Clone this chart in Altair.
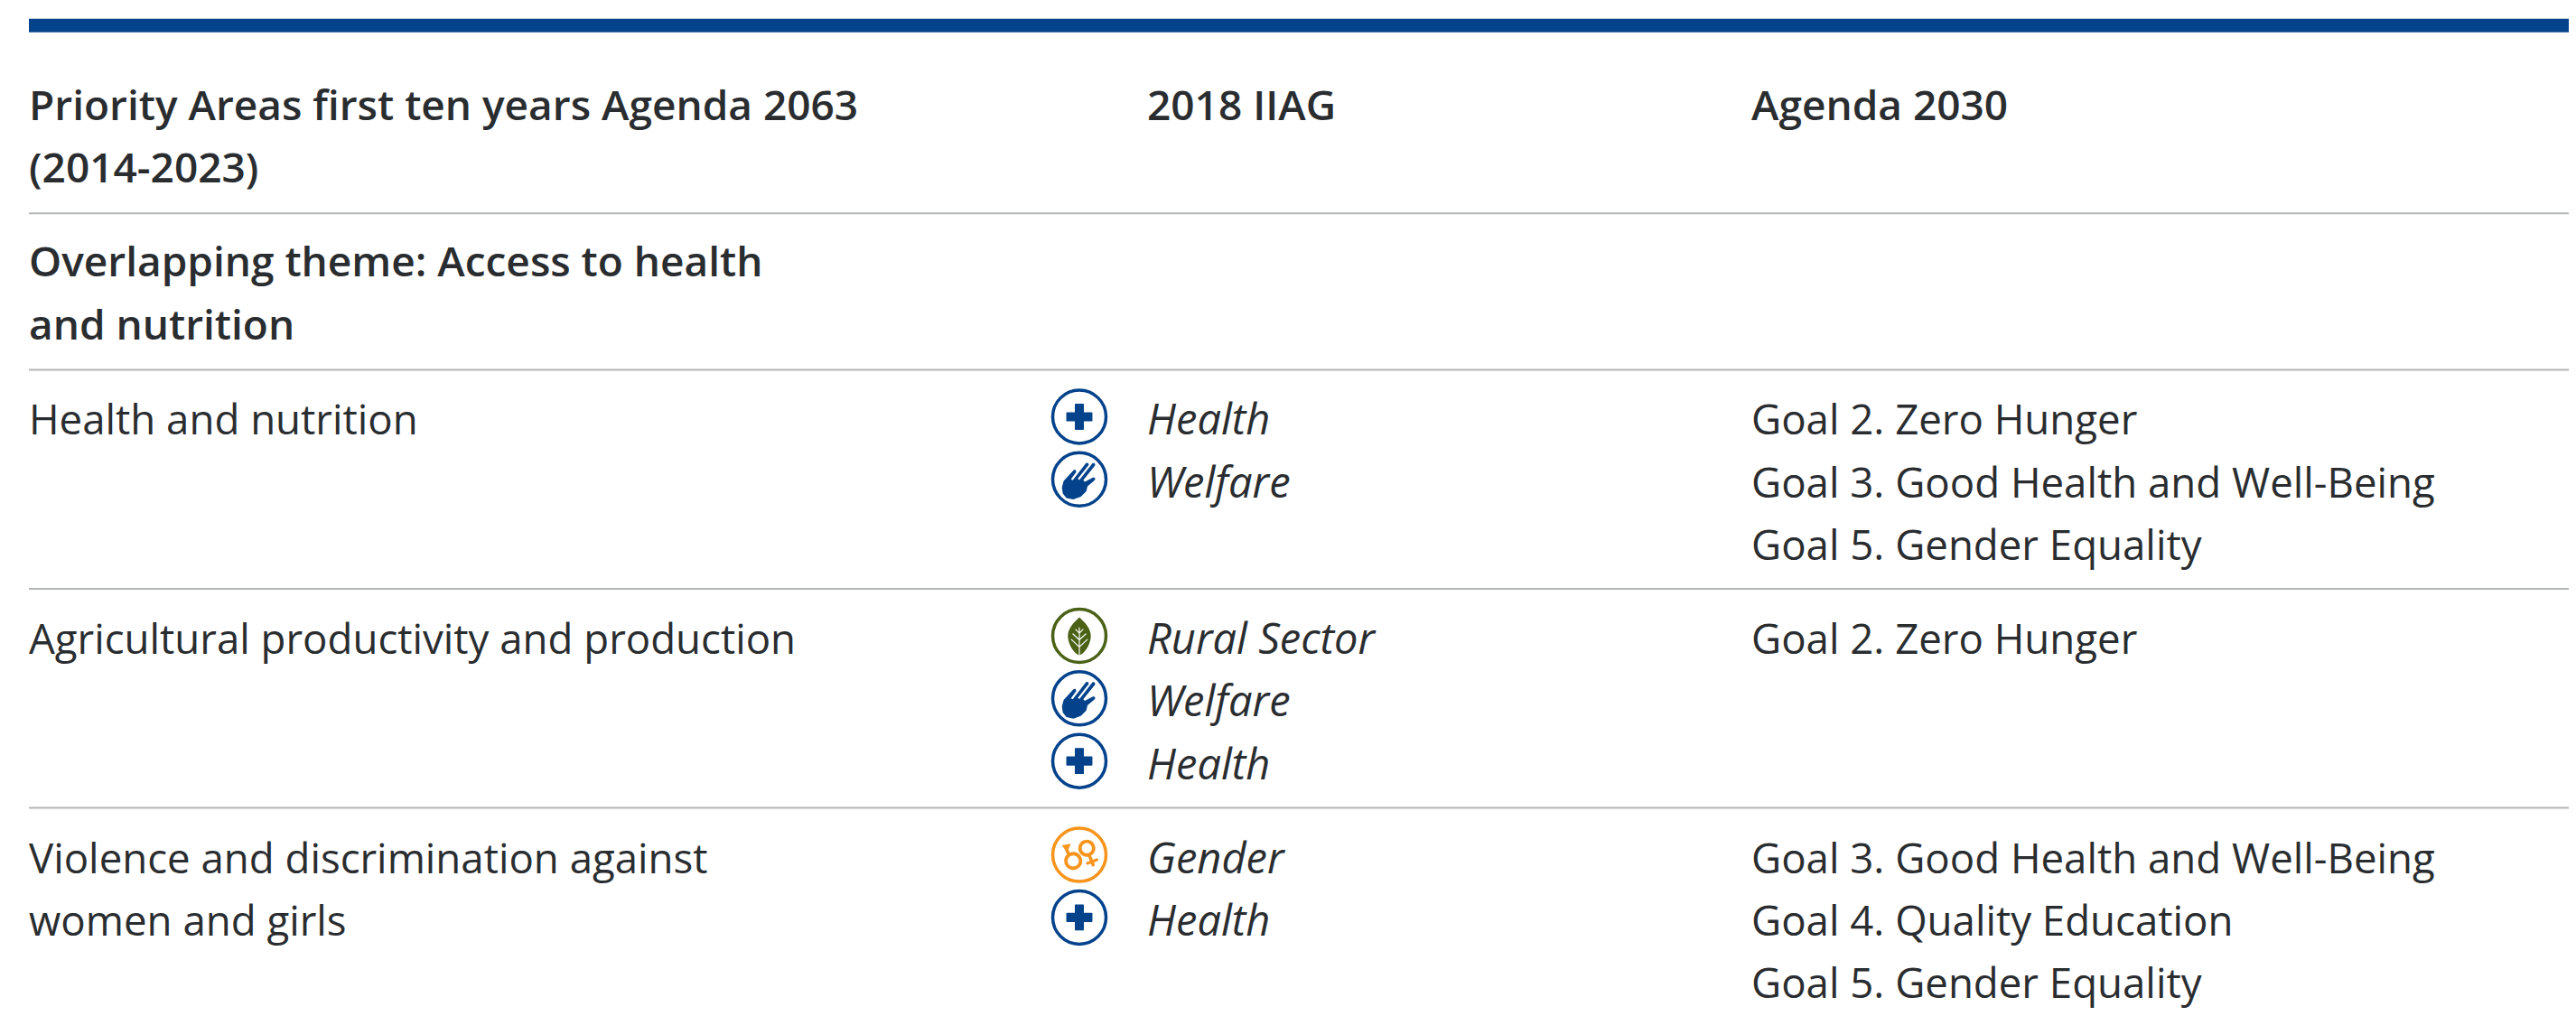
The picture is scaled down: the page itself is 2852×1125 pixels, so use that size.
import math
import altair as alt
import pandas as pd

HEADERS = [["Priority Areas first ten years Agenda 2063", "(2014-2023)"], ["2018 IIAG"], ["Agenda 2030"]]
THEME = ["Overlapping theme: Access to health", "and nutrition"]
AREAS = [["Health and nutrition"], ["Agricultural productivity and production"],
         ["Violence and discrimination against", "women and girls"]]
IIAG = [["Health", "Welfare"], ["Rural Sector", "Welfare", "Health"], ["Gender", "Health"]]
GOALS = [["Goal 2. Zero Hunger", "Goal 3. Good Health and Well-Being", "Goal 5. Gender Equality"],
         ["Goal 2. Zero Hunger"],
         ["Goal 3. Good Health and Well-Being", "Goal 4. Quality Education", "Goal 5. Gender Equality"]]
ICON_PARTS = {"Health": ["cross"], "Welfare": ["hand"], "Rural Sector": ["leaf", "veins"], "Gender": ["gender"]}
ICON_RING = {"Health": "blue", "Welfare": "blue", "Rural Sector": "green", "Gender": "orange"}

FONT = "Open Sans"
INK = "#2a2d30"

def capsule(x1, y1, x2, y2, w):
    a = math.atan2(y2 - y1, x2 - x1)
    nx, ny = -math.sin(a) * w, math.cos(a) * w
    return (f"M{x1-nx:.3f} {y1-ny:.3f}L{x2-nx:.3f} {y2-ny:.3f}"
            f"A{w:.3f} {w:.3f} 0 0 1 {x2+nx:.3f} {y2+ny:.3f}L{x1+nx:.3f} {y1+ny:.3f}"
            f"A{w:.3f} {w:.3f} 0 0 1 {x1-nx:.3f} {y1-ny:.3f}Z")

def ring(cx, cy, r, t):
    o = r; i = r - t
    return (f"M{cx-o:.3f} {cy:.3f}A{o:.3f} {o:.3f} 0 1 1 {cx+o:.3f} {cy:.3f}A{o:.3f} {o:.3f} 0 1 1 {cx-o:.3f} {cy:.3f}Z"
            f"M{cx-i:.3f} {cy:.3f}A{i:.3f} {i:.3f} 0 1 0 {cx+i:.3f} {cy:.3f}A{i:.3f} {i:.3f} 0 1 0 {cx-i:.3f} {cy:.3f}Z")

def outline(points, cx, cy, unit):
    return "M" + "L".join(f"{(x-cx)/unit:.3f} {(y-cy)/unit:.3f}" for x, y in points) + "Z"

CROSS = "M-.15 -.49H.15Q.17 -.49 .17 -.45V-.17H.45Q.49 -.17 .49 -.15V.15Q.49 .17 .45 .17H.17V.45Q.17 .49 .15 .49H-.15Q-.17 .49 -.17 .45V.17H-.45Q-.49 .17 -.49 .15V-.15Q-.49 -.17 -.45 -.17H-.17V-.45Q-.17 -.49 -.15 -.49Z"
HAND_TRACE = [(107, 372), (113, 350), (146, 314), (152, 313), (155, 320), (137, 345), (143, 348),
              (187, 291), (193, 290), (197, 296), (160, 343), (165, 347), (209, 291), (215, 291),
              (218, 298), (178, 348), (183, 353), (212, 338), (218, 342), (216, 348), (192, 368),
              (188, 385), (170, 403), (145, 412), (122, 407), (110, 392)]
HAND = outline(HAND_TRACE, 165, 345, 88.5)
LEAF = "M0 -.7C.2 -.5 .45 -.3 .43 .05C.4 .4 .15 .7 0 .73C-.15 .7 -.4 .4 -.43 .05C-.45 -.3 -.2 -.5 0 -.7Z"
VEINS = (capsule(0, -.3, 0, .72, .02) + capsule(0, -.1, -.14, -.24, .02) + capsule(0, -.1, .14, -.24, .02)
         + capsule(0, .15, -.24, -.07, .02) + capsule(0, .15, .24, -.07, .02)
         + capsule(0, .42, -.3, .14, .02) + capsule(0, .42, .3, .14, .02))
GENDER = (ring(-.23, .23, .34, .13) + ring(.28, -.25, .32, .13)
          + capsule(-.4, -.02, -.52, -.3, .06)
          + "M-.66 -.36L-.32 -.42L-.46 -.1Z"
          + capsule(.39, .06, .52, .38, .06) + capsule(.3, .32, .66, .18, .055))

PARTS = ["cross", "hand", "leaf", "veins", "gender", "blue", "green", "orange"]
PART_SHAPES = [CROSS, HAND, LEAF, VEINS, GENDER, "circle", "circle", "circle"]
BLUE, GREEN, ORANGE = "#04438c", "#4a6116", "#f7941d"
PART_COLORS = [BLUE, BLUE, GREEN, "#ffffff", ORANGE, BLUE, GREEN, ORANGE]

# Table layout in line units: every row is its line count + half a line of padding
texts, icons, rules = [], [], [{"y": -0.5, "kind": "bar"}]

def add_lines(lines, col, top, style):
    for i, t in enumerate(lines):
        texts.append({"text": t, "col": col, "y": top + 0.75 + i, "style": style})

top = 0.0
for col, lines in zip([0, 2, 3], HEADERS):
    add_lines(lines, col, top, "bold")
top += 2.5
rules.append({"y": top, "kind": "rule"})
add_lines(THEME, 0, top, "bold")
top += 2.5
rules.append({"y": top, "kind": "rule"})
for area, themes, goals in zip(AREAS, IIAG, GOALS):
    add_lines(area, 0, top, "plain")
    add_lines(themes, 2, top, "italic")
    add_lines(goals, 3, top, "plain")
    for i, name in enumerate(themes):
        yy = top + 0.75 + i
        icons.append({"col": 1, "y": yy, "part": ICON_RING[name], "ring": True})
        for p in ICON_PARTS[name]:
            icons.append({"col": 1, "y": yy, "part": p, "ring": False})
    top += 3.5
    if area is not AREAS[-1]:
        rules.append({"y": top, "kind": "rule"})

xs = alt.Scale(domain=[0, 1, 2, 3, 4], range=[24, 1187, 1262, 1931, 2836])
ys = alt.Scale(domain=[0, 15], range=[55, 1094.5], zero=False, nice=False)
X = alt.X("col:Q", scale=xs, axis=None)
Y = alt.Y("y:Q", scale=ys, axis=None)
part_color = alt.Scale(domain=PARTS, range=PART_COLORS)
part_shape = alt.Scale(domain=PARTS, range=PART_SHAPES)

rdf = pd.DataFrame(rules).assign(col=0, end=4)
base_rule = alt.Chart(rdf)
bar = base_rule.transform_filter("datum.kind == 'bar'").mark_rule(color=BLUE, strokeWidth=15).encode(x=X, x2="end:Q", y=Y)
line = base_rule.transform_filter("datum.kind == 'rule'").mark_rule(color="#b3b6b6", strokeWidth=2).encode(x=X, x2="end:Q", y=Y)

tdf = pd.DataFrame(texts)
def text_layer(style, size, dy, **kw):
    return alt.Chart(tdf).transform_filter(f"datum.style == '{style}'").mark_text(
        align="left", baseline="middle", font=FONT, fontSize=size, color=INK, dy=dy, **kw
    ).encode(x=X, y=Y, text="text:N")

idf = pd.DataFrame(icons)
rings = alt.Chart(idf).transform_filter("datum.ring").mark_point(filled=False, size=3481, strokeWidth=3.5, opacity=1).encode(
    x=X, y=Y, color=alt.Color("part:N", scale=part_color, legend=None))
glyphs = alt.Chart(idf).transform_filter("!datum.ring").mark_point(filled=True, size=3481, opacity=1, strokeWidth=0).encode(
    x=X, y=Y,
    color=alt.Color("part:N", scale=part_color, legend=None),
    shape=alt.Shape("part:N", scale=part_shape, legend=None),
    order=alt.Order("part:N", sort="ascending"))

chart = alt.layer(bar, line, text_layer("bold", 46, 4, fontWeight=600), text_layer("plain", 45.6, 6),
                  text_layer("italic", 47, 6, fontStyle="italic"), rings, glyphs).properties(
    width=2836, height=1112, padding=0, autosize="none", background="#ffffff"
).configure_view(stroke=None)

chart.save("out.html", embed_options={"renderer": "svg", "actions": False})
